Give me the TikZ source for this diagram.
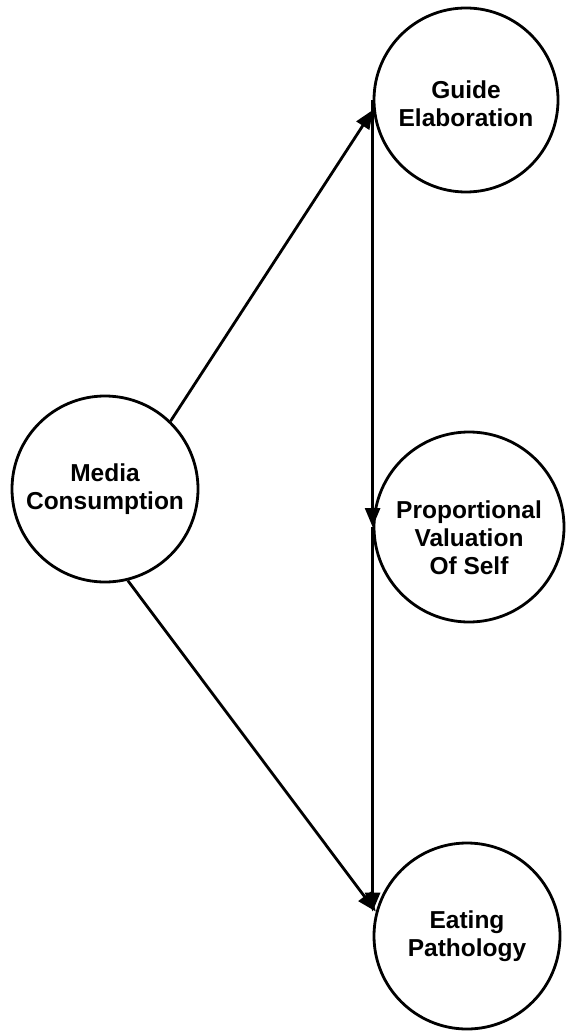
\documentclass[tikz,border=0pt]{standalone}
\usepackage{fontspec}
\setmainfont{Liberation Sans}
\usetikzlibrary{arrows.meta}
\tikzset{
  var/.style={circle, draw, line width=2.8pt, inner sep=0pt, align=center,
    font=\bfseries\fontsize{24.5}{28}\selectfont},
  lbl/.style={inner sep=0pt, align=center, font=\bfseries\fontsize{24.5}{28}\selectfont},
  arr/.style={line width=2.8pt, -{Triangle[length=19pt,width=15pt]}},
}
\begin{document}
\begin{tikzpicture}[x=1pt,y=-1pt]
\path[use as bounding box] (0,0) rectangle (567,1032);
\node[var, minimum size=186pt] (media) at (105,489) {Media\\Consumption};
\node[var, minimum size=184pt] (guide) at (466,100) {};
\node[lbl] (guidetext) at (466,104) {Guide\\Elaboration};
\node[var, minimum size=190pt] (prop) at (469,527) {};
\node[lbl] (proptext) at (469,538) {Proportional\\Valuation\\Of Self};
\node[var, minimum size=186pt] (eat) at (467,936) {Eating\\Pathology};
\draw[arr] (media.46) -- (guide.186);
\draw[arr] (media.-76) -- (eat.165);
\draw[arr] (guide.west) -- (prop.west);
\draw[arr] (prop.west) -- (prop.west |- eat.165);
\end{tikzpicture}
\end{document}
